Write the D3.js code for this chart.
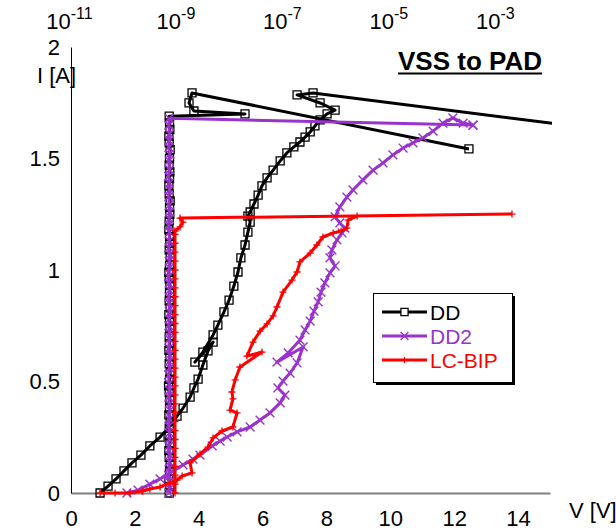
<!DOCTYPE html>
<html>
<head>
<meta charset="utf-8">
<script src="https://cdn.jsdelivr.net/npm/d3@7"></script>
<style>
  body { margin: 0; background: #fff; }
  svg { display: block; font-family: "Liberation Sans", Arial, sans-serif; }
</style>
</head>
<body>
<svg id="chart"></svg>
<script>
// TLP I-V curves (bottom axis, V) and leakage after each pulse (top axis, A, log)
const xTicks = [0, 2, 4, 6, 8, 10, 12, 14];
const yTicks = [0, 0.5, 1, 1.5, 2];
const leakTicks = [1e-11, 1e-9, 1e-7, 1e-5, 1e-3];

const ddV = [0.91, 1.16, 1.41, 1.66, 1.91, 2.19, 2.47, 2.79, 3.10, 3.32, 3.51, 3.73, 3.85, 3.98, 4.13, 4.29, 4.45,
  3.88, 4.13, 4.45, 4.60, 4.79, 4.95, 5.10, 5.23, 5.32, 5.45, 5.54, 5.61, 5.54, 5.61, 5.73, 5.86, 5.98, 6.14, 6.33,
  6.55, 6.76, 6.98, 7.17, 7.33, 7.49, 7.64, 7.80, 8.02, 8.27, 7.80, 7.08, 7.58, 16.0];
const ddI = [0, 0.031, 0.063, 0.099, 0.135, 0.170, 0.211, 0.251, 0.300, 0.345, 0.381, 0.430, 0.471, 0.511, 0.574, 0.637, 0.677,
  0.587, 0.632, 0.709, 0.753, 0.812, 0.865, 0.928, 0.991, 1.054, 1.112, 1.170, 1.215, 1.242, 1.260, 1.296, 1.336, 1.377, 1.413, 1.448,
  1.489, 1.525, 1.552, 1.574, 1.596, 1.619, 1.646, 1.673, 1.700, 1.717, 1.749, 1.785, 1.794, 1.641];

const ddLeakI = [0.00, 0.03, 0.06, 0.10, 0.13, 0.16, 0.19, 0.22, 0.26, 0.29, 0.32, 0.35, 0.38, 0.42, 0.45, 0.48, 0.51, 0.54,
  0.58, 0.61, 0.64, 0.67, 0.70, 0.74, 0.77, 0.80, 0.83, 0.86, 0.90, 0.93, 0.96, 0.99, 1.02, 1.06, 1.09, 1.12, 1.15, 1.18,
  1.22, 1.25, 1.28, 1.31, 1.34, 1.38, 1.41, 1.44, 1.47, 1.50, 1.54, 1.57, 1.60, 1.63, 1.66, 1.69,
  1.700, 1.713, 1.749, 1.794, 1.543];
const ddLeakA = [7.0e-10, 7.2e-10, 6.9e-10, 7.1e-10, 7.3e-10, 7.0e-10, 6.9e-10, 7.2e-10, 7.1e-10, 7.0e-10,
  7.3e-10, 6.9e-10, 7.1e-10, 7.2e-10, 7.0e-10, 6.8e-10, 7.1e-10, 7.3e-10, 7.0e-10, 7.2e-10,
  6.9e-10, 7.1e-10, 7.0e-10, 7.2e-10, 7.1e-10, 6.9e-10, 7.3e-10, 7.0e-10, 7.1e-10, 7.2e-10,
  7.0e-10, 6.9e-10, 7.1e-10, 7.3e-10, 7.0e-10, 7.2e-10, 7.1e-10, 6.9e-10, 7.0e-10, 7.2e-10,
  7.1e-10, 7.3e-10, 7.0e-10, 6.9e-10, 7.1e-10, 7.2e-10, 7.0e-10, 7.1e-10, 7.3e-10, 7.0e-10,
  6.9e-10, 7.2e-10, 7.1e-10, 7.0e-10,
  1.86e-8, 2.04e-9, 1.65e-9, 1.88e-9, 3.0e-4];

const dd2V = [1.75, 2.10, 2.47, 2.79, 3.10, 3.51, 3.82, 4.04, 4.42, 4.67, 4.89, 5.20, 5.61, 5.92, 6.23, 6.55, 6.70,
  6.48, 6.64, 6.86, 7.08, 7.27, 6.45, 6.80, 7.17, 7.33, 7.49, 7.61, 7.74, 7.83, 7.95, 8.11, 8.27, 8.11, 8.17, 8.33,
  8.49, 8.58, 8.42, 8.27, 8.42, 8.64, 8.83, 9.14, 9.46, 9.77, 10.08, 10.40, 10.71, 11.02, 11.34, 11.65, 11.96, 12.28, 12.59];
const dd2I = [0, 0.013, 0.040, 0.063, 0.090, 0.126, 0.152, 0.170, 0.211, 0.233, 0.251, 0.274, 0.296, 0.327, 0.359, 0.404, 0.439,
  0.471, 0.502, 0.538, 0.583, 0.655, 0.587, 0.628, 0.686, 0.731, 0.771, 0.816, 0.857, 0.901, 0.942, 0.987, 1.018, 1.054, 1.090, 1.135,
  1.166, 1.188, 1.211, 1.238, 1.283, 1.327, 1.359, 1.404, 1.448, 1.480, 1.516, 1.547, 1.570, 1.592, 1.623, 1.659, 1.682, 1.659, 1.650];

const dd2LeakI = [0.00, 0.02, 0.05, 0.08, 0.11, 0.14, 0.17, 0.21, 0.24, 0.27, 0.30, 0.33, 0.37, 0.40, 0.43, 0.46, 0.49, 0.53,
  0.56, 0.59, 0.62, 0.65, 0.69, 0.72, 0.75, 0.78, 0.81, 0.85, 0.88, 0.91, 0.94, 0.97, 1.01, 1.04, 1.07, 1.10, 1.13, 1.17,
  1.20, 1.23, 1.26, 1.29, 1.33, 1.36, 1.39, 1.42, 1.45, 1.49, 1.52, 1.55, 1.58, 1.61, 1.65, 1.68,
  1.650];
const dd2LeakA = [6.9e-10, 7.1e-10, 7.0e-10, 6.8e-10, 7.1e-10, 7.0e-10, 7.2e-10, 6.9e-10, 7.0e-10, 7.1e-10,
  6.9e-10, 7.0e-10, 7.2e-10, 7.0e-10, 6.9e-10, 7.1e-10, 7.0e-10, 6.8e-10, 7.1e-10, 7.0e-10,
  7.2e-10, 6.9e-10, 7.0e-10, 7.1e-10, 6.9e-10, 7.0e-10, 7.2e-10, 7.0e-10, 6.9e-10, 7.1e-10,
  7.0e-10, 6.8e-10, 7.1e-10, 7.0e-10, 7.2e-10, 6.9e-10, 7.0e-10, 7.1e-10, 6.9e-10, 7.0e-10,
  7.2e-10, 7.0e-10, 6.9e-10, 7.1e-10, 7.0e-10, 6.8e-10, 7.1e-10, 7.0e-10, 7.2e-10, 6.9e-10,
  7.0e-10, 7.1e-10, 6.9e-10, 7.0e-10,
  3.57e-4];

const bipV = [0.91, 1.38, 1.85, 2.25, 2.47, 2.79, 3.10, 3.32, 3.48, 3.79, 3.73, 4.04, 4.29, 4.45, 4.73, 5.07, 5.20, 4.98,
  5.07, 5.04, 5.14, 5.29, 5.98, 5.51, 5.70, 5.92, 6.14, 6.33, 6.45, 6.64, 6.92, 7.08, 7.17, 7.49, 7.70, 7.89, 8.21,
  8.46, 8.64, 8.68, 8.96];
const bipI = [0, 0, 0, 0.009, 0.018, 0.027, 0.045, 0.058, 0.076, 0.090, 0.135, 0.175, 0.206, 0.247, 0.278, 0.296, 0.359, 0.372,
  0.422, 0.453, 0.507, 0.565, 0.632, 0.614, 0.677, 0.726, 0.758, 0.794, 0.834, 0.901, 0.955, 0.991, 1.036, 1.076, 1.112, 1.148, 1.166,
  1.175, 1.188, 1.224, 1.242];

const bipLeakI = [0.00, 0.04, 0.08, 0.12, 0.16, 0.20, 0.24, 0.28, 0.32, 0.36, 0.40, 0.44, 0.48, 0.52, 0.56, 0.60, 0.64, 0.68,
  0.72, 0.76, 0.80, 0.84, 0.88, 0.92, 0.96, 1.00, 1.04, 1.08, 1.12, 1.16, 1.175,
  1.193, 1.215, 1.233, 1.251];
const bipLeakA = [9.0e-10, 9.0e-10, 9.0e-10, 9.0e-10, 9.0e-10, 9.0e-10, 9.0e-10, 9.0e-10, 9.0e-10, 9.0e-10,
  9.0e-10, 9.0e-10, 9.0e-10, 9.0e-10, 9.0e-10, 9.0e-10, 9.0e-10, 9.0e-10, 9.0e-10, 9.0e-10,
  9.0e-10, 9.0e-10, 9.0e-10, 9.0e-10, 9.0e-10, 9.0e-10, 9.0e-10, 9.0e-10, 9.0e-10, 9.0e-10, 9.0e-10,
  1.12e-9, 1.27e-9, 1.12e-9, 1.93e-3];

const W = 616, H = 531;
const plot = { left: 71, right: 550, top: 47, bottom: 493 };
const purple = '#9933CC';
const font = '"Liberation Sans", Arial, sans-serif';

const x = d3.scaleLinear().domain([0, 15]).range([plot.left, plot.right]);
const xLeak = d3.scaleLog().domain([1e-11, 1e-2]).range([plot.left, plot.right]);
const y = d3.scaleLinear().domain([0, 2]).range([plot.bottom, plot.top]);

const svg = d3.select('#chart').attr('width', W).attr('height', H);

svg.append('clipPath').attr('id', 'clip')
  .append('rect').attr('x', 55).attr('y', 35).attr('width', 552 - 55).attr('height', 470);

// axes
const gx = svg.append('g')
  .attr('transform', `translate(0,${plot.bottom})`)
  .call(d3.axisBottom(x).tickValues(xTicks).tickSize(0).tickSizeOuter(0).tickPadding(17).tickFormat(d => d));
gx.select('.domain').attr('stroke', '#808080').attr('stroke-width', 2);

const gy = svg.append('g')
  .attr('transform', `translate(${plot.left},0)`)
  .call(d3.axisLeft(y).tickValues(yTicks).tickSize(0).tickSizeOuter(0).tickPadding(11).tickFormat(d => d));
gy.select('.domain').attr('stroke', '#000');

const gt = svg.append('g')
  .attr('transform', `translate(0,${plot.top})`)
  .call(d3.axisTop(xLeak).tickValues(leakTicks).tickSize(0).tickPadding(18).tickFormat(''));
gt.select('.domain').remove();
gt.selectAll('.tick text').each(function (d) {
  const t = d3.select(this).attr('x', -2);
  t.append('tspan').text('10');
  t.append('tspan').attr('dy', -10).attr('font-size', 16).text(Math.round(Math.log10(d)));
});

svg.selectAll('.tick text').attr('font-size', 22).attr('fill', '#000').attr('font-family', font);

svg.append('text').attr('x', 37).attr('y', 83).attr('font-size', 22).text('I [A]');
svg.append('text').attr('x', 569).attr('y', 518).attr('font-size', 22).text('V [V]');

const title = svg.append('text').attr('x', 398).attr('y', 70)
  .attr('font-size', 26).attr('font-weight', 'bold').text('VSS to PAD');
const tw = title.node().getComputedTextLength();
svg.append('line').attr('x1', 398).attr('x2', 398 + tw).attr('y1', 73.5).attr('y2', 73.5)
  .attr('stroke', '#000').attr('stroke-width', 2);

// series
const series = [
  { name: 'DD', color: '#000', sym: d3.symbolSquare, size: 64, sw: 1.3,
    iv: ddV.map((v, i) => [x(v), y(ddI[i])]),
    leak: ddLeakA.map((a, i) => [xLeak(a), y(ddLeakI[i])]) },
  { name: 'DD2', color: purple, sym: d3.symbolX, size: 52, sw: 1.4,
    iv: dd2V.map((v, i) => [x(v), y(dd2I[i])]),
    leak: dd2LeakA.map((a, i) => [xLeak(a), y(dd2LeakI[i])]) },
  { name: 'LC-BIP', color: '#FF0000', sym: d3.symbolPlus, size: 18, sw: 1.3,
    iv: bipV.map((v, i) => [x(v), y(bipI[i])]),
    leak: bipLeakA.map((a, i) => [xLeak(a), y(bipLeakI[i])]) },
];

const marks = svg.append('g').attr('clip-path', 'url(#clip)');
const line = d3.line();

series.forEach(s => {
  [s.iv, s.leak].forEach(pts => {
    marks.append('path')
      .attr('d', line(pts))
      .attr('fill', 'none')
      .attr('stroke', s.color)
      .attr('stroke-width', 3)
      .attr('stroke-linejoin', 'round');
    // the last DD pulse point lies off the chart, only its line shows
    const shown = s.name === 'DD' && pts === s.iv ? pts.slice(0, -1) : pts;
    marks.selectAll(null)
      .data(shown)
      .enter().append('path')
      .attr('transform', d => `translate(${d[0]},${d[1]})`)
      .attr('d', d3.symbol(s.sym, s.size))
      .attr('fill', 'none')
      .attr('stroke', s.color)
      .attr('stroke-width', s.sw);
  });
});

// legend
const lg = svg.append('g').attr('transform', 'translate(373,293)');
lg.append('rect').attr('x', 3).attr('y', 3).attr('width', 139).attr('height', 89).attr('fill', '#000');
lg.append('rect').attr('x', 0.5).attr('y', 0.5).attr('width', 139).attr('height', 89)
  .attr('fill', '#fff').attr('stroke', '#000');
series.forEach((s, i) => {
  const yy = 19 + i * 24;
  lg.append('line').attr('x1', 9).attr('x2', 54).attr('y1', yy).attr('y2', yy)
    .attr('stroke', s.color).attr('stroke-width', 3);
  lg.append('path').attr('transform', `translate(31.5,${yy})`)
    .attr('d', d3.symbol(s.sym, s.size * 0.8)).attr('fill', s.name === 'DD' ? '#fff' : 'none')
    .attr('stroke', s.color).attr('stroke-width', s.sw);
  lg.append('text').attr('x', 57).attr('y', yy + 7.5).attr('font-size', 21)
    .attr('fill', s.color).text(s.name);
});
</script>
</body>
</html>
